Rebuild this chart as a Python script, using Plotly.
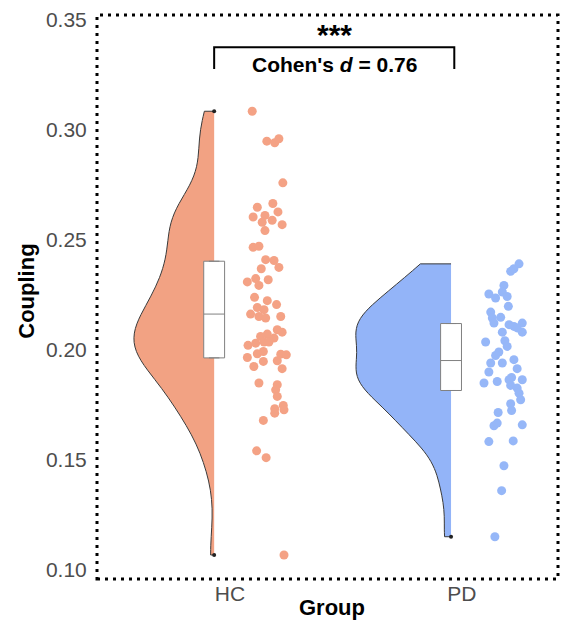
import plotly.graph_objects as go

# ---------------- data ----------------
groups = ["HC", "PD"]

hc_values = [0.3083, 0.2947, 0.2940, 0.2958, 0.2758, 0.2647, 0.2664, 0.2626, 0.2603, 0.2610,
             0.2579, 0.2588, 0.2568, 0.2541, 0.2465, 0.2470, 0.2409, 0.2405, 0.2374, 0.2368,
             0.2318, 0.2308, 0.2323, 0.2292, 0.2238, 0.2223, 0.2205, 0.2192, 0.2182, 0.2162,
             0.2151, 0.2144, 0.2151, 0.2091, 0.2080, 0.2071, 0.2060, 0.2053, 0.2020, 0.2030,
             0.2035, 0.2035, 0.1992, 0.1982, 0.1980, 0.1977, 0.1965, 0.1947, 0.1950, 0.1924,
             0.1914, 0.1849, 0.1841, 0.1818, 0.1788, 0.1747, 0.1732, 0.1712, 0.1727, 0.1679,
             0.1541, 0.1510, 0.1068]
hc_jitter = [0.096, 0.159, 0.193, 0.211, 0.228, 0.118, 0.185, 0.207, 0.100, 0.151,
             0.139, 0.182, 0.225, 0.151, 0.100, 0.125, 0.154, 0.190, 0.211, 0.135,
             0.165, 0.075, 0.111, 0.125, 0.106, 0.161, 0.201, 0.118, 0.147, 0.089,
             0.125, 0.154, 0.219, 0.204, 0.225, 0.161, 0.132, 0.190, 0.078, 0.111,
             0.147, 0.168, 0.144, 0.118, 0.219, 0.243, 0.075, 0.144, 0.204, 0.103,
             0.225, 0.125, 0.204, 0.197, 0.204, 0.230, 0.193, 0.193, 0.233, 0.144,
             0.115, 0.156, 0.233]

pd_values = [0.2390, 0.2368, 0.2356, 0.2292, 0.2253, 0.2262, 0.2242, 0.2235, 0.2197, 0.2171,
             0.2144, 0.2147, 0.2114, 0.2106, 0.2121, 0.2121, 0.2080, 0.2080, 0.2099, 0.2035,
             0.2041, 0.2015, 0.1990, 0.1974, 0.1955, 0.1940, 0.1940, 0.1914, 0.1899, 0.1874,
             0.1849, 0.1856, 0.1864, 0.1864, 0.1838, 0.1826, 0.1803, 0.1755, 0.1773, 0.1715,
             0.1724, 0.1655, 0.1667, 0.1659, 0.1583, 0.1586, 0.1473, 0.1360, 0.1151]
pd_jitter = [0.246, 0.224, 0.210, 0.181, 0.116, 0.174, 0.195, 0.145, 0.200, 0.124,
             0.131, 0.167, 0.203, 0.224, 0.260, 0.138, 0.174, 0.260, 0.238, 0.102,
             0.185, 0.195, 0.159, 0.145, 0.224, 0.174, 0.124, 0.238, 0.116, 0.214,
             0.095, 0.152, 0.203, 0.260, 0.210, 0.238, 0.246, 0.210, 0.253, 0.156,
             0.214, 0.138, 0.152, 0.260, 0.116, 0.221, 0.181, 0.171, 0.142]

# box statistics (q1, median, q3) per group
box_q1 = [0.1963, 0.1815]
box_median = [0.2162, 0.1951]
box_q3 = [0.2402, 0.2119]

stat_label = "***"
effect_label = "Cohen's <i>d</i> = 0.76"
bracket_y = 0.3373
bracket_tip = 0.3275

# ---------------- styles ----------------
fills = ["#F2A283", "#93B4F8"]
point_colors = ["#F4A285", "#96B7F8"]
violin_offset = [-0.068, -0.047]
violin_width = [0.69, 0.82]
bandwidth = [0.0128, 0.0095]
FONT = "Liberation Sans, Arial, sans-serif"

values = [hc_values, pd_values]
jitters = [hc_jitter, pd_jitter]

fig = go.Figure()
end_x, end_y = [], []
for i, g in enumerate(groups):
    pos = i + 1 + violin_offset[i]
    fig.add_trace(go.Violin(
        x=[pos] * len(values[i]), y=values[i], orientation="v",
        side="negative", width=violin_width[i], spanmode="hard",
        bandwidth=bandwidth[i], points=False, scalemode="width",
        fillcolor=fills[i], line=dict(color="#3a3a3a", width=1),
        opacity=1, showlegend=False, hoverinfo="skip", name=g))
    fig.add_trace(go.Box(
        x=[pos], q1=[box_q1[i]], median=[box_median[i]], q3=[box_q3[i]],
        lowerfence=[box_q1[i]], upperfence=[box_q3[i]], width=0.09,
        fillcolor="white", line=dict(color="#808080", width=1),
        showlegend=False, hoverinfo="skip", name=g))
    fig.add_trace(go.Scatter(
        x=[i + 1 + j for j in jitters[i]], y=values[i], mode="markers",
        marker=dict(color=point_colors[i], size=9, line=dict(width=0)),
        showlegend=False, hoverinfo="skip"))
    end_x.append(pos); end_y.append(min(values[i]))
    if i == 0:
        end_x.append(pos); end_y.append(max(values[i]))

# small end dots of the half violins
fig.add_trace(go.Scatter(x=end_x, y=end_y, mode="markers",
                         marker=dict(color="#222222", size=4), showlegend=False, hoverinfo="skip"))

# significance bracket
x_left = 1 + violin_offset[0]
x_right = 2 - 0.033
fig.add_shape(type="path", xref="x", yref="y",
              path=f"M {x_left},{bracket_tip} L {x_left},{bracket_y} L {x_right},{bracket_y} L {x_right},{bracket_tip}",
              line=dict(color="black", width=2))
x_mid = (x_left + x_right) / 2
fig.add_annotation(x=x_mid, y=bracket_y, yref="y", xref="x", text=f"<b>{stat_label}</b>",
                   showarrow=False, yanchor="bottom", yshift=-6,
                   font=dict(family=FONT, size=30, color="black"))
fig.add_annotation(x=x_mid, y=bracket_y, yref="y", xref="x", text=f"<b>{effect_label}</b>",
                   showarrow=False, yanchor="top", yshift=-4,
                   font=dict(family=FONT, size=21, color="black"))

# axis titles
fig.add_annotation(x=0.51, y=-0.05, xref="paper", yref="paper", text="<b>Group</b>",
                   showarrow=False, xanchor="center", yanchor="middle",
                   font=dict(family=FONT, size=22, color="black"))
fig.add_annotation(x=-0.152, y=0.511, xref="paper", yref="paper", text="<b>Coupling</b>",
                   showarrow=False, xanchor="center", yanchor="middle", textangle=-90,
                   font=dict(family=FONT, size=22, color="black"))

# dotted border
fig.add_shape(type="rect", xref="paper", yref="paper", x0=0, x1=1, y0=0, y1=1,
              line=dict(color="black", width=3, dash="3px,5px"), layer="above")

fig.update_layout(
    width=561, height=620,
    margin=dict(l=97, r=3, t=15, b=41),
    plot_bgcolor="white", paper_bgcolor="white",
    font=dict(family=FONT, color="#4D4D4D"),
    xaxis=dict(range=[0.427, 2.414], tickvals=[1, 2], ticktext=groups, automargin=False,
               showgrid=False, zeroline=False, showline=False, ticks="",
               tickfont=dict(size=21, color="#4D4D4D")),
    yaxis=dict(range=[0.0959, 0.352], tickvals=[0.10, 0.15, 0.20, 0.25, 0.30, 0.35], automargin=False,
               tickformat=".2f", showgrid=False, zeroline=False, showline=False,
               ticks="outside", ticklen=5, tickcolor="rgba(0,0,0,0)",
               tickfont=dict(size=21, color="#4D4D4D")),
)

fig.write_html("out.html", config={"displayModeBar": False},
               post_script="document.body.style.margin='0';document.body.style.overflow='hidden';")
